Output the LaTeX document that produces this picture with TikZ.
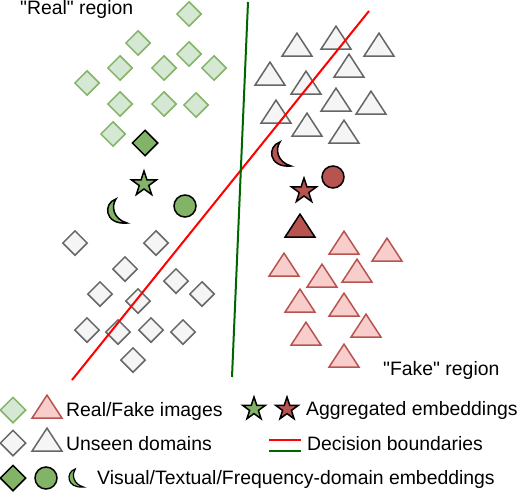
\documentclass[tikz,border=0pt]{standalone}
\usepackage{fontspec}
\setmainfont{Liberation Sans}[Ligatures=TeXOff]
\usetikzlibrary{shapes.geometric}
\definecolor{realfill}{HTML}{D5E8D4}
\definecolor{realdraw}{HTML}{82B366}
\definecolor{fakefill}{HTML}{F8CECC}
\definecolor{fakedraw}{HTML}{B85450}
\definecolor{unseenfill}{HTML}{F5F5F5}
\definecolor{unseendraw}{HTML}{666666}
\definecolor{boundgreen}{HTML}{006600}
\tikzset{
    line join=round,
    sample/.style={
        draw,
        line width=1.5pt,
        inner sep=0pt
    },
    realimg/.style={
        sample,
        diamond,
        aspect=1,
        minimum size=25pt,
        fill=realfill,
        draw=realdraw
    },
    unseenimg/.style={realimg, fill=unseenfill, draw=unseendraw},
    fakeimg/.style={
        sample,
        isosceles triangle,
        isosceles triangle stretches,
        shape border rotate=90,
        minimum width=30pt,
        minimum height=23pt,
        fill=fakefill,
        draw=fakedraw
    },
    unseentri/.style={fakeimg, fill=unseenfill, draw=unseendraw},
    visemb/.style={
        sample,
        diamond,
        aspect=1,
        minimum size=26pt,
        fill=realdraw,
        draw=black
    },
    txtemb/.style={
        sample,
        circle,
        minimum size=22pt,
        draw=black
    },
    aggemb/.style={
        sample,
        star,
        star points=5,
        star point ratio=2.6,
        minimum size=26pt,
        draw=black
    },
    crescent/.pic={
        \path[pic actions] (-1,-12) .. controls (-14,-8) and (-13,14) .. (10,12)
            .. controls (-4,8) and (-6,-5) .. (-1,-12) -- cycle;
    },
    boundary/.style={
        line width=2pt
    },
    legendtext/.style={
        font=\fontsize{19.4}{23}\selectfont,
        anchor=base west,
        inner sep=0pt
    }
}

\begin{document}
\begin{tikzpicture}[x=1pt, y=-1pt]
\useasboundingbox (0,0) rectangle (518,492);

% "Real" images
\node[realimg] (r1) at (189,14) {};
\node[realimg] (r2) at (138,43) {};
\node[realimg] (r3) at (189,54) {};
\node[realimg] (r4) at (120,68) {};
\node[realimg] (r5) at (164,68) {};
\node[realimg] (r6) at (214,68) {};
\node[realimg] (r7) at (87,83) {};
\node[realimg] (r8) at (120,104) {};
\node[realimg] (r9) at (164,104) {};
\node[realimg] (r10) at (196,105) {};
\node[realimg] (r11) at (113,134) {};

% real embeddings
\node[visemb] (gvis) at (145,143) {};
\node[aggemb, fill=realdraw] (gagg) at (144,184) {};
\node[txtemb, fill=realdraw] (gtxt) at (185,206) {};
\pic[fill=realdraw, draw=black, line width=1.5pt] (gmoon) at (117,211) {crescent};

% unseen domains (diamonds)
\node[unseenimg] (u1) at (75,243) {};
\node[unseenimg] (u2) at (156,243) {};
\node[unseenimg] (u3) at (125,269) {};
\node[unseenimg] (u4) at (176,281) {};
\node[unseenimg] (u5) at (100,294) {};
\node[unseenimg] (u6) at (138,301) {};
\node[unseenimg] (u7) at (202,294) {};
\node[unseenimg] (u8) at (87,330) {};
\node[unseenimg] (u9) at (118,332) {};
\node[unseenimg] (u10) at (151,330) {};
\node[unseenimg] (u11) at (183,332) {};
\node[unseenimg] (u12) at (133,360) {};

% unseen domains (triangles)
\node[unseentri] (ut1) at (297,48) {};
\node[unseentri] (ut2) at (336,41) {};
\node[unseentri] (ut3) at (379,48) {};
\node[unseentri] (ut4) at (270,77) {};
\node[unseentri] (ut5) at (349,69) {};
\node[unseentri] (ut6) at (306,86) {};
\node[unseentri] (ut7) at (336,103) {};
\node[unseentri] (ut8) at (371,106) {};
\node[unseentri] (ut9) at (276,115) {};
\node[unseentri] (ut10) at (307,128) {};
\node[unseentri] (ut11) at (344,135) {};

% fake embeddings
\pic[fill=fakedraw, draw=black, line width=1.5pt] (fmoon) at (281,154) {crescent};
\node[txtemb, fill=fakedraw] (ftxt) at (333,177) {};
\node[aggemb, fill=fakedraw] (fagg) at (304,191) {};
\node[fakeimg, fill=fakedraw, draw=black] (fvis) at (300,229) {};

% "Fake" images
\node[fakeimg] (f1) at (344,246) {};
\node[fakeimg] (f2) at (387,253) {};
\node[fakeimg] (f3) at (284,268) {};
\node[fakeimg] (f4) at (322,279) {};
\node[fakeimg] (f5) at (357,274) {};
\node[fakeimg] (f6) at (300,304) {};
\node[fakeimg] (f7) at (344,308) {};
\node[fakeimg] (f8) at (366,329) {};
\node[fakeimg] (f9) at (306,337) {};
\node[fakeimg] (f10) at (344,359) {};

% decision boundaries
\coordinate (redbot) at (72,380);
\coordinate (redtop) at (369,11);
\coordinate (greentop) at (248,2);
\coordinate (greenbot) at (232,377);
\draw[boundary, red] (redbot) -- (redtop);
\draw[boundary, boundgreen] (greentop) -- (greenbot);

% region labels
\node[legendtext] (reallbl) at (20,15) {"Real" region};
\node[legendtext] (fakelbl) at (383,375) {"Fake" region};

% Legend
\node[realimg, minimum size=26pt] (lreal) at (13,410) {};
\node[fakeimg] (lfake) at (47,410) {};
\node[legendtext] (lrftext) at (66,416) {Real/Fake images};

\node[unseenimg, minimum size=26pt] (lunsd) at (13,443) {};
\node[unseentri] (lunst) at (47,443) {};
\node[legendtext] (lunstext) at (66,450) {Unseen domains};

\node[visemb] (lvis) at (13,478) {};
\node[txtemb, fill=realdraw] (ltxt) at (46,478) {};
\pic[fill=realdraw, draw=black, line width=1.2pt, scale=0.75] (lfreq) at (76,478) {crescent};
\node[legendtext] (lembtext) at (97,484) {Visual/Textual/Frequency-domain embeddings};

\node[aggemb, fill=realdraw, minimum size=24pt] (lagg1) at (254,409) {};
\node[aggemb, fill=fakedraw, minimum size=24pt] (lagg2) at (287,409) {};
\node[legendtext] (laggtext) at (306,415) {Aggregated embeddings};

\coordinate (lredA) at (269,440);
\coordinate (lredB) at (301,440);
\coordinate (lgreenA) at (269,451);
\coordinate (lgreenB) at (301,451);
\draw[boundary, red] (lredA) -- (lredB);
\draw[boundary, boundgreen] (lgreenA) -- (lgreenB);
\node[legendtext] (lbndtext) at (307,450) {Decision boundaries};

\end{tikzpicture}
\end{document}
